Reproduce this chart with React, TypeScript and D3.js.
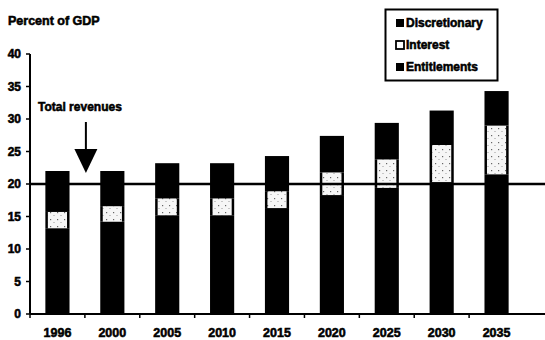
import React from 'react';
import * as d3 from 'd3';

const years = ['1996', '2000', '2005', '2010', '2015', '2020', '2025', '2030', '2035'];
const entitlements = [13.2, 14.2, 15.2, 15.2, 16.3, 18.3, 19.4, 20.3, 21.5];
const interest = [2.5, 2.4, 2.6, 2.6, 2.6, 3.5, 4.4, 5.7, 7.5];
const discretionary = [6.3, 5.4, 5.4, 5.4, 5.4, 5.6, 5.6, 5.3, 5.3];
const yTicks = [0, 5, 10, 15, 20, 25, 30, 35, 40];
const revenueLevel = 20;
const seriesKeys = ['Entitlements', 'Interest', 'Discretionary'];
const legendItems = ['Discretionary', 'Interest', 'Entitlements'];

const W = 545;
const H = 340;
const FONT = '"Liberation Sans", Arial, sans-serif';

export default function App() {
  const rows = years.map((y, i) => ({
    year: y,
    Entitlements: entitlements[i],
    Interest: interest[i],
    Discretionary: discretionary[i],
  }));
  const stack = d3.stack<any>().keys(seriesKeys);
  const series = stack(rows);

  const x = d3.scaleBand<string>().domain(years).range([30, 524]).paddingInner(0.56).paddingOuter(0.28);
  const y = d3.scaleLinear().domain([0, 40]).range([314, 54]);
  const step = x.step();
  const x0 = 30;
  const boundaries = d3.range(0, years.length).map((k) => x0 + k * step);
  const bw = x.bandwidth();
  const arrowX = boundaries[1];

  const textStyle: React.CSSProperties = { fontFamily: FONT, fontWeight: 700, fontSize: 12 };
  const sw = 0.55;

  return (
    <svg width={W} height={H} style={{ position: 'absolute', left: 0, top: 0, background: '#fff' }}>
      <defs>
        <pattern id="speck" width="7" height="7" patternUnits="userSpaceOnUse">
          <rect width="7" height="7" fill="#f6f6f6" />
          <rect x="1" y="2" width="1.2" height="1.2" fill="#666" />
          <rect x="4.5" y="5" width="1" height="1" fill="#999" />
        </pattern>
      </defs>

      {/* title */}
      <text x={8} y={25} style={{ ...textStyle, fontSize: 12.5 }} stroke="#000" strokeWidth={sw}>
        Percent of GDP
      </text>

      {/* bars */}
      {series.map((s) =>
        s.map((d, i) => {
          const isInterest = s.key === 'Interest';
          const bx = x(years[i])!;
          const top = y(d[1]);
          const bot = y(d[0]);
          if (isInterest) {
            return (
              <g key={s.key + i}>
                <rect x={bx} y={top} width={bw} height={bot - top} fill="#000" />
                <rect x={bx + 2.5} y={top} width={bw - 5} height={bot - top} fill="url(#speck)" />
              </g>
            );
          }
          return <rect key={s.key + i} x={bx} y={top} width={bw} height={bot - top} fill="#000" />;
        })
      )}

      {/* revenue line */}
      <line x1={x0} x2={W} y1={y(revenueLevel)} y2={y(revenueLevel)} stroke="#000" strokeWidth={2.6} />

      {/* y axis */}
      <line x1={x0} x2={x0} y1={y(40)} y2={y(0)} stroke="#000" strokeWidth={2} />
      {yTicks.map((t) => (
        <g key={t}>
          <line x1={x0 - 4} x2={x0} y1={y(t)} y2={y(t)} stroke="#000" strokeWidth={1.5} />
          <text x={21} y={y(t)} dy="0.36em" textAnchor="end" style={textStyle} stroke="#000" strokeWidth={sw}>
            {t}
          </text>
        </g>
      ))}

      {/* x axis */}
      <line x1={x0} x2={W} y1={y(0)} y2={y(0)} stroke="#000" strokeWidth={2} />
      {boundaries.map((b, k) => (
        <line key={k} x1={b} x2={b} y1={y(0)} y2={y(0) + 4} stroke="#000" strokeWidth={1.5} />
      ))}
      {years.map((yr) => (
        <text
          key={yr}
          x={x(yr)! + bw / 2}
          y={337}
          textAnchor="middle"
          style={{ ...textStyle, fontSize: 12.5 }}
          stroke="#000"
          strokeWidth={sw}
        >
          {yr}
        </text>
      ))}

      {/* annotation */}
      <text x={38} y={111} style={textStyle} stroke="#000" strokeWidth={sw}>
        Total revenues
      </text>
      <line x1={arrowX + 1} x2={arrowX + 1} y1={122} y2={151} stroke="#000" strokeWidth={2} />
      <path d={`M${arrowX - 10.5},149 L${arrowX + 12.5},149 L${arrowX + 1},173 Z`} fill="#000" />

      {/* legend */}
      <rect x={385.5} y={9.5} width={112} height={71} fill="#fff" stroke="#000" strokeWidth={2} />
      {legendItems.map((name, i) => {
        const cy = 23 + i * 22;
        const isInterest = name === 'Interest';
        return (
          <g key={name}>
            <rect
              x={396}
              y={cy - 4}
              width={8}
              height={8}
              fill={isInterest ? '#fff' : '#000'}
              stroke="#000"
              strokeWidth={isInterest ? 1.8 : 0}
            />
            <text x={406} y={cy} dy="0.36em" style={textStyle} stroke="#000" strokeWidth={sw}>
              {name}
            </text>
          </g>
        );
      })}
    </svg>
  );
}
